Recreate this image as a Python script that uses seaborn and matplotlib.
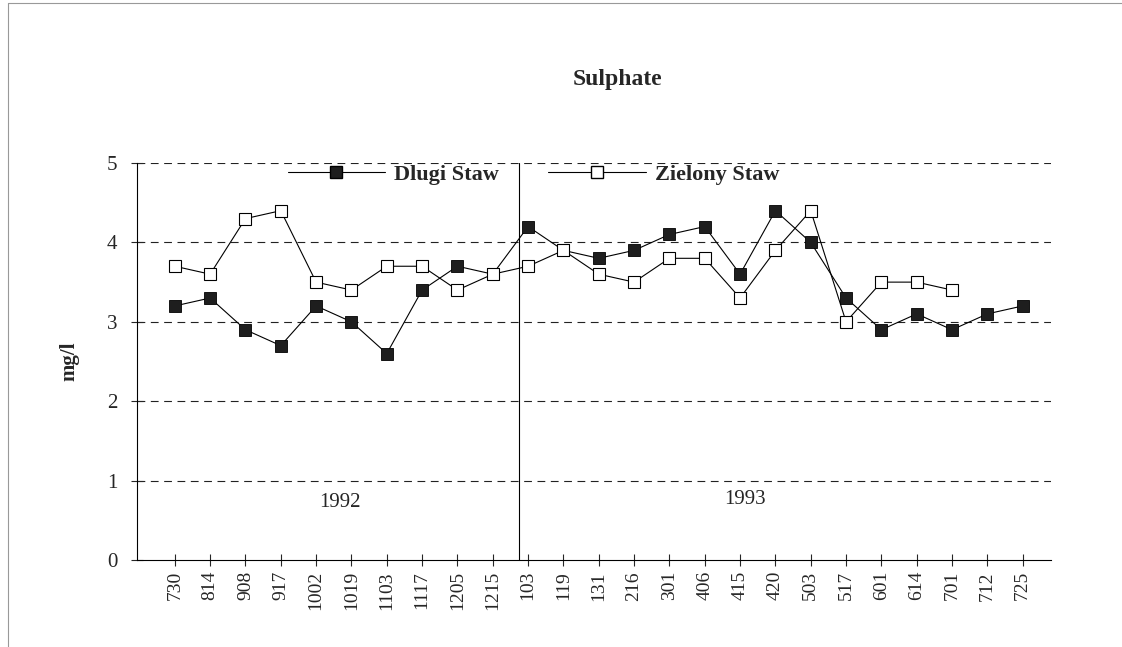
import numpy as np
import pandas as pd
import matplotlib
matplotlib.use('Agg')
from matplotlib import pyplot as plt
from matplotlib.lines import Line2D
import seaborn as sns

# sampling dates (MMDD), 1992 then 1993
dates = ['730', '814', '908', '917', '1002', '1019', '1103', '1117', '1205', '1215',
         '103', '119', '131', '216', '301', '406', '415', '420', '503', '517',
         '601', '614', '701', '712', '725']
dlugi = [3.2, 3.3, 2.9, 2.7, 3.2, 3.0, 2.6, 3.4, 3.7, 3.6,
         4.2, 3.9, 3.8, 3.9, 4.1, 4.2, 3.6, 4.4, 4.0, 3.3,
         2.9, 3.1, 2.9, 3.1, 3.2]
zielony = [3.7, 3.6, 4.3, 4.4, 3.5, 3.4, 3.7, 3.7, 3.4, 3.6,
           3.7, 3.9, 3.6, 3.5, 3.8, 3.8, 3.3, 3.9, 4.4, 3.0,
           3.5, 3.5, 3.4, np.nan, np.nan]
years = ['1992', '1993']

sns.set_style('white')
plt.rcParams['font.family'] = ['Liberation Serif', 'DejaVu Serif']

pos = np.arange(len(dates))
df = pd.DataFrame({'pos': pos, 'Dlugi Staw': dlugi, 'Zielony Staw': zielony})

fig = plt.figure(figsize=(11.22, 6.47), dpi=100)
fig.set_facecolor('white')
ax = fig.add_axes([0.1221, 0.1345, 0.8146, 0.6135])

sns.lineplot(data=df, x='pos', y='Dlugi Staw', ax=ax, color='black', lw=0.8,
             marker='s', markersize=9, markerfacecolor='#1e1e1e',
             markeredgecolor='black', markeredgewidth=0.6)
sns.lineplot(data=df.dropna(), x='pos', y='Zielony Staw', ax=ax, color='black', lw=0.8,
             marker='s', markersize=9, markerfacecolor='white',
             markeredgecolor='black', markeredgewidth=0.8)

ax.set_xlim(-1.07, 24.8)
ax.set_ylim(0, 5)
ax.set_yticks([0, 1, 2, 3, 4, 5])
ax.set_xticks(pos)
ax.set_xticklabels(dates, rotation=90, fontsize=14)
ax.tick_params(axis='y', left=True, labelsize=15, direction='inout', length=8, width=0.8, pad=10)
ax.tick_params(axis='x', bottom=True, direction='inout', length=8, width=0.8, pad=4)
for s in ['top', 'right']:
    ax.spines[s].set_visible(False)
for s in ['left', 'bottom']:
    ax.spines[s].set_color('black')
    ax.spines[s].set_linewidth(0.8)

for yv in [1, 2, 3, 4, 5]:
    ax.axhline(yv, color='#222222', lw=0.8, ls=(0, (7, 5)), zorder=0)
# year separator
ax.plot([9.75, 9.75], [0, 5], color='black', lw=0.8)

ax.text(4.67, 0.72, years[0], fontsize=15, ha='center', va='center')
ax.text(16.15, 0.76, years[1], fontsize=15, ha='center', va='center')

ax.set_xlabel('')
ax.set_ylabel('mg/l', fontsize=15, fontweight='bold', labelpad=20)
fig.text(0.55, 0.877, 'Sulphate', fontsize=17, fontweight='bold', ha='center', va='center')

handles = [
    Line2D([], [], color='black', lw=0.8, marker='s', markersize=9,
           markerfacecolor='#1e1e1e', markeredgecolor='black'),
    Line2D([], [], color='black', lw=0.8, marker='s', markersize=9,
           markerfacecolor='white', markeredgecolor='black'),
]
ax.legend(handles, ['Dlugi Staw', 'Zielony Staw'], ncol=2, frameon=False,
          loc='center left', bbox_to_anchor=(0.155, 0.97),
          prop={'size': 16, 'weight': 'bold'}, handlelength=4.4,
          handletextpad=0.4, columnspacing=2.2, borderaxespad=0)

# scanned page border
fig.add_artist(Line2D([8 / 1122, 8 / 1122], [0, 1 - 3 / 647], color='#999999', lw=0.8))
fig.add_artist(Line2D([8 / 1122, 1], [1 - 3 / 647, 1 - 3 / 647], color='#999999', lw=0.8))

plt.savefig('out.png', dpi=100)
